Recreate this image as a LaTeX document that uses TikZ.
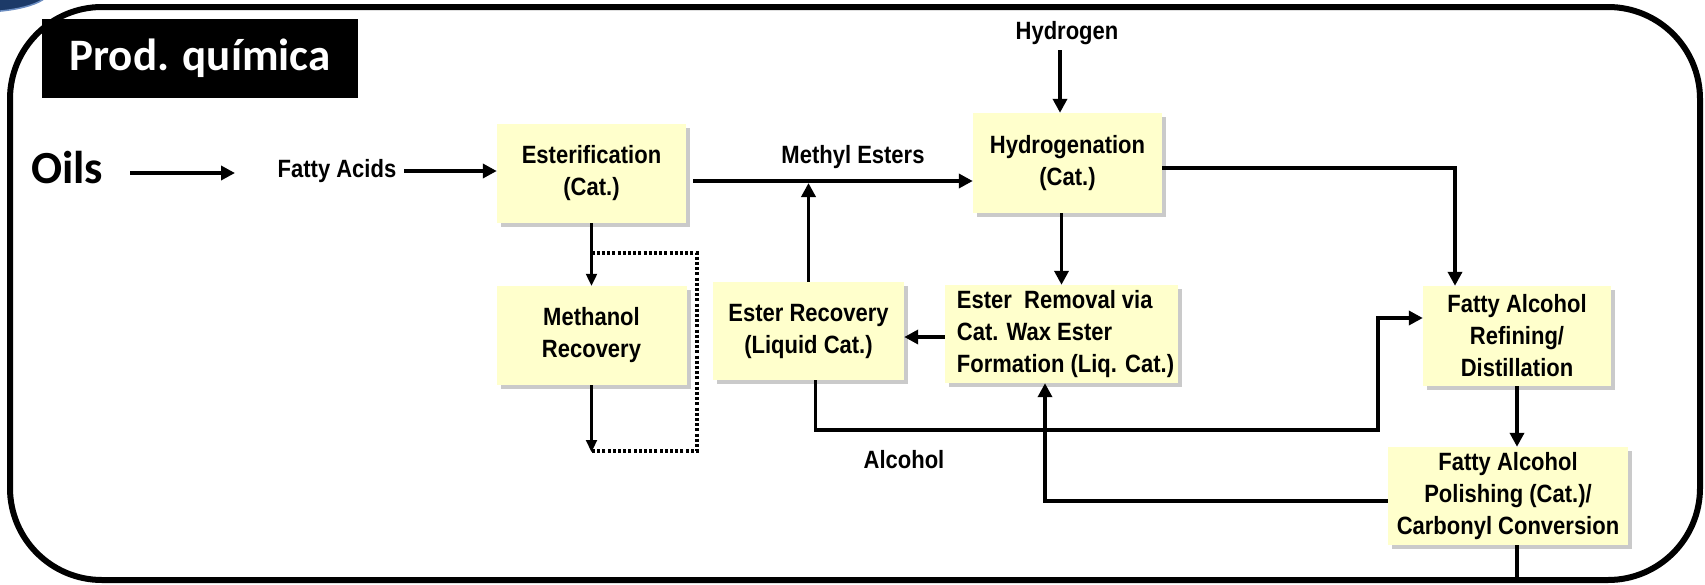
\documentclass[tikz,border=0pt]{standalone}
\usepackage{fontspec}
\setmainfont{Liberation Sans}
\newfontfamily\calibrifont{Carlito}
\newfontfamily\boxfont[FakeStretch=0.88]{Liberation Sans}
\usetikzlibrary{arrows.meta,shadows,calc}
\definecolor{boxyellow}{HTML}{FFFFCC}
\definecolor{navyblob}{HTML}{1C3A68}
\definecolor{blobrim}{HTML}{6A8CC0}
\begin{document}
\begin{tikzpicture}[x=1pt,y=-1pt,
  procbox/.style={fill=boxyellow, draw=none, inner sep=0pt, align=center,
    font=\boxfont\fontsize{25}{32}\selectfont\bfseries,
    drop shadow={shadow xshift=4pt, shadow yshift=-4pt, opacity=0.35, fill=black!60}},
  lbl/.style={inner sep=0pt, font=\boxfont\fontsize{25}{28}\selectfont\bfseries},
  flow/.style={line width=3.5pt, -{Triangle[length=14pt,width=14pt]}},
  thinflow/.style={line width=2.2pt, -{Triangle[length=12pt,width=11pt]}},
  loopline/.style={line width=3.2pt, dash pattern=on 3pt off 2.2pt},
  frameline/.style={line width=6pt, rounded corners=92pt}]
\useasboundingbox (0,0) rectangle (1705,584);
% corner decoration
\begin{scope}
  \clip (0,0) rectangle (1705,584);
  \fill[navyblob] (-20,-10) ellipse (70 and 22);
  \draw[blobrim, line width=1.5pt] (-20,-10) ellipse (70 and 22);
\end{scope}
% frame
\draw[frameline] (10,7) rectangle (1700,580);
% title
\node[fill=black, text=white, minimum width=316pt, minimum height=79pt, inner sep=0pt,
  font=\calibrifont\fontsize{45}{50}\selectfont\bfseries] (title) at (200,58.5) {Prod. química};
% labels
\node[inner sep=0pt, anchor=base west, font=\calibrifont\fontsize{46}{50}\selectfont\bfseries] (oils) at (31,183) {Oils};
\node[lbl] (fa) at (337,171) {Fatty Acids};
\node[lbl] (me) at (853,157) {Methyl Esters};
\node[lbl] (h2) at (1067,33) {Hydrogen};
\node[lbl] (alc) at (904,460) {Alcohol};
% boxes
\node[procbox, minimum width=189pt, minimum height=99pt] (est) at (591.5,173.5) {Esterification\\(Cat.)};
\node[procbox, minimum width=190pt, minimum height=99pt] (meth) at (591.5,335.5) {Methanol\\Recovery};
\node[procbox, minimum width=191pt, minimum height=98pt] (erec) at (808.5,331) {Ester Recovery\\(Liquid Cat.)};
\node[procbox, minimum width=189pt, minimum height=100pt] (hyd) at (1067.5,163) {Hydrogenation\\(Cat.)};
\node[procbox, minimum width=233pt, minimum height=98pt, align=left] (erem) at (1061.5,334)
  {\hspace*{8pt}Ester~ Removal via\\\hspace*{8pt}Cat. Wax Ester\\\hspace*{8pt}Formation (Liq. Cat.)};
\node[procbox, minimum width=188pt, minimum height=100pt] (ref) at (1517,336) {Fatty Alcohol\\Refining/\\Distillation};
\node[procbox, minimum width=240pt, minimum height=98pt] (pol) at (1508,496) {Fatty Alcohol\\Polishing (Cat.)/\\Carbonyl Conversion};
% free ends
\coordinate (oilsout) at (130,173);
\coordinate (fain) at (235,173);
\coordinate (methout) at (591.5,452);
\coordinate (loopright) at (697,253);
\coordinate (loopbottom) at (697,451);
\coordinate (h2top) at (1060,50);
\coordinate (framebottom) at (1517,580);
% connectors
\draw[flow] (oilsout) -- (fain);
\draw[flow] ($(fa.east)+(8,0)$) -- (fa.east -| est.west);
\draw[flow] ($(est.east |- 0,181)+(7,0)$) -- (hyd.west |- 0,181);
\draw[flow] (erec.north) -- (erec.north |- 0,183);
\draw[thinflow] (est.south) -- (est.south |- meth.north);
\draw[thinflow] (meth.south) -- (methout);
\draw[loopline] (est.south |- loopright) -- (loopright) -- (loopbottom) -- (meth.south |- loopbottom);
\draw[flow] (h2top) -- (h2top |- hyd.north);
\draw[flow] (hyd.south -| erem.north) -- (erem.north);
\draw[flow] (hyd.east |- 0,168) -| ($(ref.north)+(-62,0)$);
\draw[flow] (erem.west |- 0,337) -- (erec.east |- 0,337);
\draw[flow] ($(erec.south)+(7,0)$) -- ++(0,50) -| (1378,318) -- (ref.west |- 0,318);
\draw[flow] (ref.south) -- (ref.south |- pol.north);
\draw[flow] (pol.west |- 0,501) -| ($(erem.south)+(-16.5,0)$);
\draw[line width=3.5pt] ($(pol.south)+(9,0)$) -- (framebottom);
\end{tikzpicture}
\end{document}
